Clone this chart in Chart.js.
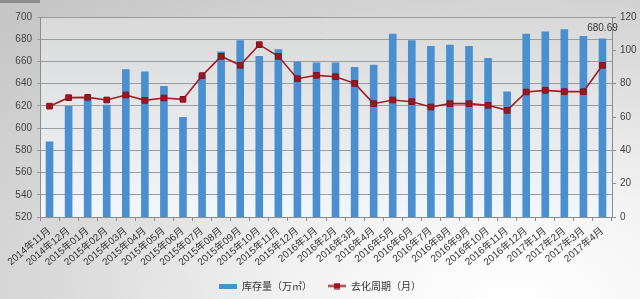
<!DOCTYPE html>
<html><head><meta charset="utf-8">
<script src="https://cdn.jsdelivr.net/npm/chart.js@4.4.0/dist/chart.umd.min.js"></script>
<style>
html,body{margin:0;padding:0;width:640px;height:299px;overflow:hidden;}
body{background: radial-gradient(ellipse 110% 130% at 80% 100%, #ffffff 0%, #f3f3f3 30%, #dadada 65%, #c6c6c6 100%);}
#wrap{position:relative;width:640px;height:299px;}
#tl{position:absolute;left:0;top:0;width:40px;height:3px;background:#8e8e8e;}
</style></head><body>
<div id="wrap"><div id="tl"></div><canvas id="c" width="640" height="299"></canvas></div>
<script>
const categories = ["2014年11月","2014年12月","2015年01月","2015年02月","2015年03月","2015年04月","2015年05月","2015年06月","2015年07月","2015年08月","2015年09月","2015年10月","2015年11月","2015年12月","2016年1月","2016年2月","2016年3月","2016年4月","2016年5月","2016年6月","2016年7月","2016年8月","2016年9月","2016年10月","2016年11月","2016年12月","2017年1月","2017年2月","2017年3月","2017年4月"];
const inventory = [588, 620, 627, 621, 653, 651, 638, 610, 648, 669, 679, 665, 671, 660, 659, 659, 655, 657, 685, 679, 674, 675, 674, 663, 633, 685, 687, 689, 683, 680.69];
const cycle = [66.5, 71.6, 71.8, 70.2, 73.2, 70, 71.4, 70.6, 84.8, 96.4, 91, 103.4, 96.4, 83, 85, 84.2, 80.2, 68, 70.2, 69.2, 66, 68, 68, 67, 64, 75, 76, 75.2, 75.2, 91];
const leftAxis = {min: 520, max: 700, step: 20};
const rightAxis = {min: 0, max: 120, step: 20};
const seriesNames = ["库存量（万㎡）", "去化周期（月）"];
const labeledIndex = 29;

const BAR = '#4a8fd0';
const LINE = '#a51c24';
const FONT = '"Liberation Sans", "Noto Sans CJK SC", sans-serif';

function mkBarSwatch(){const c=document.createElement('canvas');c.width=18;c.height=5;const g=c.getContext('2d');g.fillStyle=BAR;g.fillRect(0,0,18,5);return c;}
function mkLineSwatch(){const c=document.createElement('canvas');c.width=18;c.height=7;const g=c.getContext('2d');g.strokeStyle=LINE;g.lineWidth=2;g.beginPath();g.moveTo(0,3.5);g.lineTo(18,3.5);g.stroke();g.fillStyle='#9c1820';g.fillRect(6,0.5,6,6);return c;}
const barSw = mkBarSwatch(), lineSw = mkLineSwatch();

const bgPlugin = {
  id:'bg',
  beforeDraw(chart){
    const {ctx, chartArea:a} = chart;
    ctx.save();
    const g = ctx.createLinearGradient(0,a.top,0,a.bottom);
    g.addColorStop(0,'#d9d9d9');
    g.addColorStop(0.5,'#e6e8ea');
    g.addColorStop(1,'#f2f7fc');
    ctx.fillStyle = g;
    ctx.fillRect(a.left,a.top,a.right-a.left,a.bottom-a.top);
    ctx.restore();
  },
  afterDatasetsDraw(chart){
    const {ctx} = chart;
    const el = chart.getDatasetMeta(0).data[labeledIndex];
    ctx.save();
    ctx.font = '10px ' + FONT;
    ctx.fillStyle = '#333';
    ctx.textAlign = 'center';
    ctx.textBaseline = 'bottom';
    ctx.fillText(String(inventory[labeledIndex]), el.x, el.y - 5);
    ctx.restore();
  }
};

new Chart(document.getElementById('c'), {
  data: {
    labels: categories,
    datasets: [
      {type:'bar', label: seriesNames[0], data: inventory, yAxisID:'y', backgroundColor: BAR, categoryPercentage:1, barPercentage:0.4, order:2},
      {type:'line', label: seriesNames[1], data: cycle, yAxisID:'y1', borderColor: LINE, borderWidth:1.6, pointStyle:'rect', pointRadius:4, pointBackgroundColor:'#9c1820', pointBorderColor:'#8a1018', pointBorderWidth:1, tension:0, order:1}
    ]
  },
  options: {
    responsive:false,
    animation:false,
    devicePixelRatio:1,
    layout:{padding:{top:17,left:0,right:0,bottom:-2}},
    plugins:{
      tooltip:{enabled:false},
      legend:{
        position:'bottom',
        labels:{
          usePointStyle:true, pointStyleWidth:18, boxHeight:8, padding:16,
          color:'#333', font:{size:10, family:'"Noto Sans CJK SC", sans-serif'},
          generateLabels: () => [
            {text: seriesNames[0], pointStyle: barSw, datasetIndex:0, hidden:false, fontColor:'#333', lineWidth:0},
            {text: seriesNames[1], pointStyle: lineSw, datasetIndex:1, hidden:false, fontColor:'#333', lineWidth:0}
          ]
        }
      }
    },
    scales:{
      x:{
        offset:true,
        grid:{offset:true, drawOnChartArea:false, drawTicks:true, tickLength:4, color:'#8c8c8c'},
        border:{color:'#8c8c8c'},
        ticks:{minRotation:40, maxRotation:40, autoSkip:false, padding:4, color:'#333', font:{size:10, family:FONT}},
        afterFit(s){ s.height = 48; }
      },
      y:{
        position:'left', min:leftAxis.min, max:leftAxis.max,
        ticks:{stepSize:leftAxis.step, color:'#444', padding:5, font:{size:10, family:FONT}},
        grid:{color:'#9c9c9c', lineWidth:1, tickLength:3},
        border:{color:'#8c8c8c'},
        afterFit(s){ s.width = 40; }
      },
      y1:{
        position:'right', min:rightAxis.min, max:rightAxis.max,
        ticks:{stepSize:rightAxis.step, color:'#444', padding:4, font:{size:10, family:FONT}},
        grid:{drawOnChartArea:false, tickLength:4, color:'#8c8c8c'},
        border:{color:'#8c8c8c'},
        afterFit(s){ s.width = 28; }
      }
    }
  },
  plugins:[bgPlugin]
});
</script>
</body></html>
